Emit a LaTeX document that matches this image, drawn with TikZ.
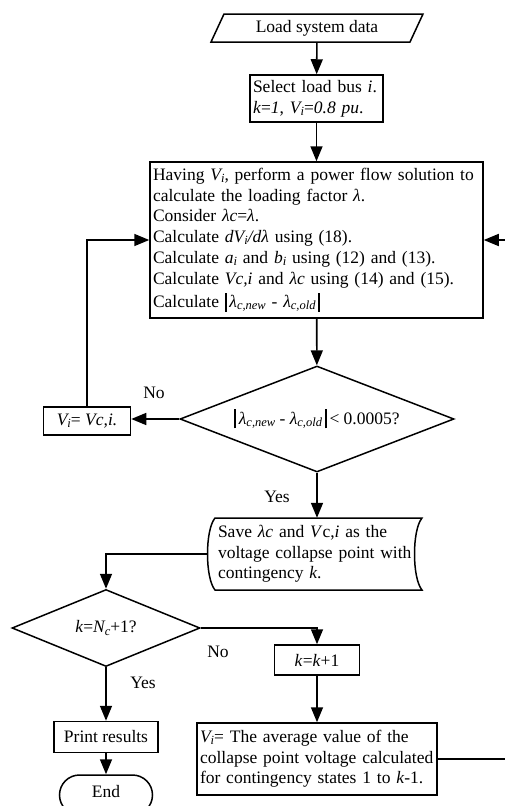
\documentclass[tikz,border=0pt]{standalone}
\usepackage{fontspec}
\setmainfont{Liberation Serif}
\usetikzlibrary{arrows.meta,shapes.geometric}
\newcommand{\sbs}[1]{\raisebox{-0.12em}{\fontsize{12.5}{12.5}\selectfont\itshape #1}}
\newcommand{\absbar}{\rule[-4pt]{1.6pt}{19pt}}
\begin{document}
\begin{tikzpicture}[x=1pt,y=-1pt,
  every node/.style={font=\fontsize{17.5}{20.7}\selectfont, inner sep=0pt},
  boxnode/.style={draw, line width=1.5pt, rectangle},
  decnode/.style={draw, line width=1.5pt, diamond},
  conn/.style={line width=1.6pt, -{Triangle[length=15pt,width=12pt]}},
  shapeline/.style={line width=1.5pt}
]
\useasboundingbox (0,0) rectangle (505,806);

% start: parallelogram
\node (load) at (317,28) [minimum width=199pt, minimum height=28pt] {Load system data};
\draw[shapeline] (224,14) -- (423,14) -- (410,42) -- (211,42) -- cycle;

\node[boxnode, minimum width=133pt, minimum height=47pt, align=left, text width=127pt] (sel) at (316.5,98.5)
  {Select load bus \textit{i}.\\ \textit{k}=\textit{1}, \textit{V\sbs{i}}=\textit{0.8 pu}.};

\node[boxnode, minimum width=333pt, minimum height=156pt, align=left, text width=327pt] (main) at (316.5,240)
  {Having \textit{V\sbs{i}}, perform a power flow solution to\\
   calculate the loading factor \textit{λ}.\\
   Consider \textit{λc}=\textit{λ}.\\
   Calculate \textit{dV\sbs{i}/dλ} using (18).\\
   Calculate \textit{a\sbs{i}} and \textit{b\sbs{i}} using (12) and (13).\\
   Calculate \textit{Vc,i} and \textit{λc} using (14) and (15).\\[3pt]
   Calculate \absbar\,\textit{λ\sbs{c,new}} - \textit{λ\sbs{c,old}}\,\absbar};

\node[decnode, aspect=2.6, minimum width=274pt, minimum height=106pt] (dec1) at (317,419)
  {\absbar\,\textit{λ\sbs{c,new}} - \textit{λ\sbs{c,old}}\,\absbar\,< 0.0005?};

\node[boxnode, minimum width=87pt, minimum height=28pt] (vic) at (87,421) {\textit{V\sbs{i}}= \textit{Vc,i.}};

% save (stored data shape)
\node[minimum width=220pt, minimum height=72pt, align=left, text width=198pt] (save) at (317,554)
  {Save \textit{λc} and \textit{V}c,\textit{i} as the\\ voltage collapse point with\\ contingency \textit{k}.};
\draw[shapeline] (215,518) -- (422,518) .. controls (412,530) and (412,578) .. (422,590)
  -- (215,590) .. controls (205,578) and (205,530) .. (215,518) -- cycle;

\node[decnode, aspect=2.47, minimum width=188pt, minimum height=77pt] (dec2) at (106,628) {\textit{k}=\textit{N\sbs{c}}+1?};

\node[boxnode, minimum width=85pt, minimum height=30pt] (kk) at (317,660) {\textit{k}=\textit{k}+1};

\node[boxnode, minimum width=240pt, minimum height=72pt, align=left, text width=234pt] (avg) at (317,759)
  {\textit{V\sbs{i}}= The average value of the\\ collapse point voltage calculated\\ for contingency states 1 to \textit{k}-1.};

\node[boxnode, minimum width=104pt, minimum height=31pt] (print) at (106,737) {Print results};

\node[boxnode, rounded corners=20pt, minimum width=93pt, minimum height=40pt] (endn) at (106,795) {};
\node at (106,792) {End};

\coordinate (rc) at (520,757);

% connectors
\draw[conn] (load) -- (sel);
\draw[conn] (sel) -- (main);
\draw[conn] (main) -- (dec1);
\draw[conn] (dec1.west) -- (dec1.west -| vic.east);
\node at (154,393) {No};
\draw[conn] (vic.north) |- (main.west);
\draw[conn] (dec1.south) -- (save.north);
\node at (277,497) {Yes};
\draw[conn] (save.west) -| (dec2.north);
\draw[conn] (dec2.east) -| (kk.north);
\node at (218,652) {No};
\draw[conn] (kk) -- (avg);
\draw[conn] (dec2.south) -- (print.north);
\node at (143,683) {Yes};
\draw[conn] (print) -- (endn);
\draw[conn] (avg.east) -- (avg.east -| rc) -- (rc |- main.east) -- (main.east);
\end{tikzpicture}
\end{document}
